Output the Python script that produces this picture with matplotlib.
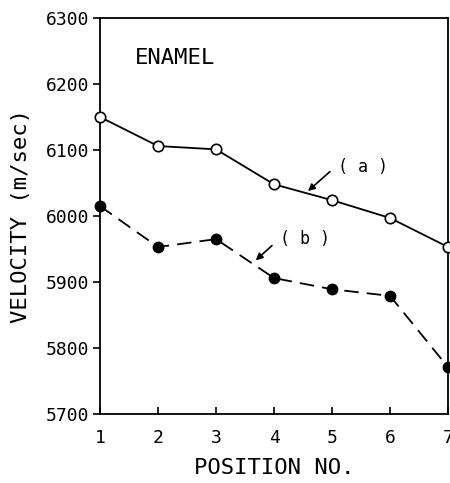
import matplotlib
matplotlib.use("Agg")
import matplotlib.pyplot as plt

positions = [1, 2, 3, 4, 5, 6, 7]
vel_a = [6150, 6106, 6101, 6048, 6024, 5997, 5953]
vel_b = [6015, 5953, 5965, 5906, 5889, 5879, 5771]
yticks = [5700, 5800, 5900, 6000, 6100, 6200, 6300]

plt.rcParams['font.family'] = ['DejaVu Sans Mono']

fig = plt.figure(figsize=(4.5, 4.83), dpi=100)
ax = fig.add_axes([100/450, 69/483, 348/450, 396/483])

ax.plot(positions, vel_a, '-', color='black', lw=1.3, marker='o', ms=7.5,
        mfc='white', mec='black', mew=1.2, clip_on=False, zorder=3)
ax.plot(positions, vel_b, color='black', lw=1.3, ls=(0, (8, 4.5)), marker='o', ms=7.5,
        mfc='black', mec='black', clip_on=False, zorder=3)

ax.set_xlim(1, 7)
ax.set_ylim(5700, 6300)
ax.set_xticks(positions)
ax.set_yticks(yticks)
ax.tick_params(axis='x', direction='in', length=5, width=1.2, pad=11, labelsize=13)
ax.tick_params(axis='y', direction='out', length=5, width=1.2, pad=3, labelsize=13)
for s in ax.spines.values():
    s.set_linewidth(1.3)

ax.set_xlabel('POSITION NO.', fontsize=16, labelpad=8)
ax.set_ylabel('VELOCITY (m/sec)', fontsize=16, labelpad=10)

ax.text(1.6, 6240, 'ENAMEL', fontsize=16, ha='left', va='center')

ax.annotate('', xy=(4.55, 6035), xytext=(5.0, 6070),
            arrowprops=dict(arrowstyle='-|>', color='black', lw=1.2, mutation_scale=10))
ax.text(5.1, 6075, '( a )', fontsize=12, ha='left', va='center')
ax.annotate('', xy=(3.65, 5930), xytext=(4.0, 5958),
            arrowprops=dict(arrowstyle='-|>', color='black', lw=1.2, mutation_scale=10))
ax.text(4.1, 5965, '( b )', fontsize=12, ha='left', va='center')

fig.savefig('out.png', dpi=100)
